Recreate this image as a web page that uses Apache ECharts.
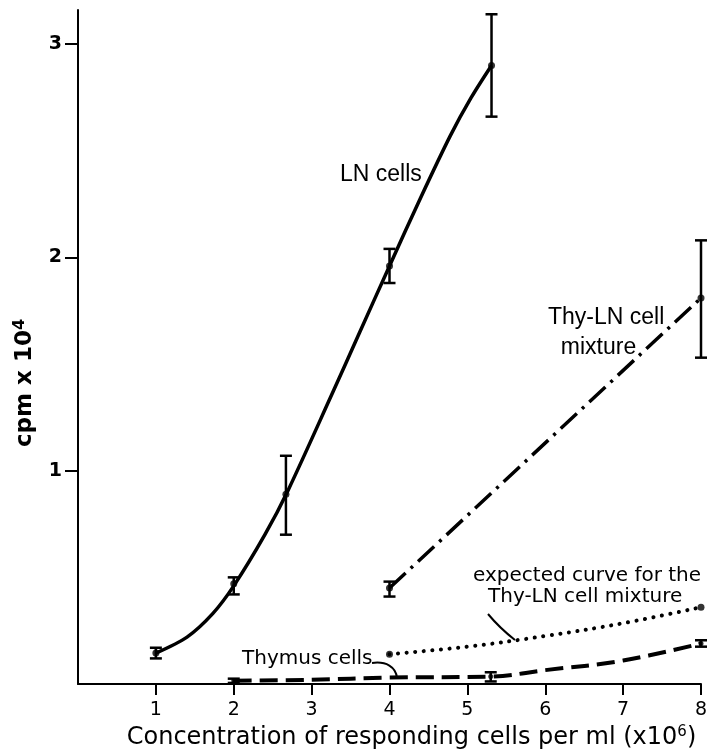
<!DOCTYPE html>
<html><head><meta charset="utf-8">
<script src="https://cdn.jsdelivr.net/npm/echarts@6/dist/echarts.min.js"></script>
<style>html,body{margin:0;padding:0;background:#fff}#c{width:715px;height:749px}</style>
</head><body><div id="c"></div>
<script>
// ---- data ----
const xTicks = [1, 2, 3, 4, 5, 6, 7, 8];
const yTicks = [1, 2, 3];

// LN cells: measured points with error bars
const lnX = [1, 2, 2.67, 4, 5.31];
const lnY = [0.145, 0.47, 0.89, 1.96, 2.90];
const lnLow = [0.12, 0.42, 0.70, 1.88, 2.66];
const lnHigh = [0.17, 0.50, 1.07, 2.04, 3.14];
// LN cells: drawn curve
const lnCurveX = [1, 1.4, 1.73, 2, 2.4, 2.7, 3.25, 3.6, 4, 4.4, 4.78, 5.05, 5.31];
const lnCurveY = [0.145, 0.22, 0.33, 0.46, 0.70, 0.91, 1.35, 1.635, 1.96, 2.28, 2.57, 2.75, 2.90];

// Thy-LN cell mixture
const mixX = [4, 8];
const mixY = [0.45, 1.81];
const mixLow = [0.41, 1.53];
const mixHigh = [0.48, 2.08];

// expected curve for the Thy-LN cell mixture
const expX = [4, 5, 6, 7, 8];
const expY = [0.14, 0.175, 0.225, 0.285, 0.36];

// Thymus cells
const thyX = [2, 5.3, 8];
const thyY = [0.015, 0.035, 0.19];
const thyLow = [0.005, 0.012, 0.175];
const thyHigh = [0.025, 0.055, 0.205];
const thyCurveX = [2, 3, 4, 5.3, 6, 7, 8];
const thyCurveY = [0.015, 0.02, 0.03, 0.035, 0.065, 0.11, 0.19];

const xTitle = 'Concentration of responding cells per ml (x10{sup|6})';
const yTitle = 'cpm x 10{sup|4}';

// ---- helpers ----
const pairs = (xs, ys) => xs.map((x, i) => [x, ys[i]]);
const INK = '#000';
const SANS = '"DejaVu Sans", sans-serif';

function errBars(xs, lows, highs) {
  return {
    type: 'custom', silent: true, z: 4,
    data: xs.map((x, i) => [x, lows[i], highs[i]]),
    encode: { x: 0, y: [1, 2] },
    renderItem: (params, api) => {
      const x = api.value(0), lo = api.value(1), hi = api.value(2);
      const a = api.coord([x, lo]), b = api.coord([x, hi]);
      const w = 6, st = { stroke: INK, lineWidth: 2.5 };
      return { type: 'group', children: [
        { type: 'line', shape: { x1: a[0], y1: a[1], x2: b[0], y2: b[1] }, style: st },
        { type: 'line', shape: { x1: a[0] - w, y1: a[1], x2: a[0] + w, y2: a[1] }, style: st },
        { type: 'line', shape: { x1: b[0] - w, y1: b[1], x2: b[0] + w, y2: b[1] }, style: st }
      ]};
    }
  };
}
function dots(data, size) {
  return { type: 'scatter', data, symbol: 'circle', symbolSize: size, itemStyle: { color: INK }, z: 6, silent: true };
}

const chart = echarts.init(document.getElementById('c'), null, { renderer: 'canvas' });
chart.setOption({
  animation: false,
  backgroundColor: '#fff',
  grid: { left: 78, right: 14, top: 10, bottom: 65, containLabel: false, outerBoundsMode: 'none' },
  xAxis: {
    type: 'value', min: 0, max: 8, interval: 1,
    axisLine: { lineStyle: { color: INK, width: 2 } },
    axisTick: { customValues: xTicks, length: 11, lineStyle: { color: INK, width: 2 } },
    axisLabel: { customValues: xTicks, color: INK, fontSize: 19, fontFamily: SANS, margin: 17 },
    splitLine: { show: false },
    name: xTitle, nameLocation: 'middle', nameGap: 37,
    nameTextStyle: { color: INK, fontSize: 24, fontFamily: SANS, padding: [0, 0, 0, 44],
      rich: { sup: { fontSize: 15, fontFamily: SANS, color: INK, verticalAlign: 'top', padding: [0, 0, 10, 0] } } }
  },
  yAxis: {
    type: 'value', min: 0, max: 3.16, interval: 1,
    axisLine: { lineStyle: { color: INK, width: 2 } },
    axisTick: { customValues: yTicks, length: 13, lineStyle: { color: INK, width: 2 } },
    axisLabel: { customValues: yTicks, color: INK, fontSize: 19, fontFamily: SANS, margin: 16, fontWeight: 'bold' },
    splitLine: { show: false },
    name: yTitle, nameLocation: 'middle', nameGap: 40,
    nameTextStyle: { color: INK, fontSize: 23, fontFamily: SANS, fontWeight: 'bold', padding: [0, 72, 0, 0],
      rich: { sup: { fontSize: 16, fontFamily: SANS, fontWeight: 'bold', color: INK, verticalAlign: 'top', padding: [0, 0, 10, 0] } } }
  },
  series: [
    { type: 'line', name: 'LN cells', data: pairs(lnCurveX, lnCurveY), smooth: 0.3, showSymbol: false,
      lineStyle: { color: INK, width: 3.5 }, z: 3, silent: true },
    errBars(lnX, lnLow, lnHigh),
    dots(pairs(lnX, lnY), 7),

    { type: 'line', name: 'Thy-LN cell mixture', data: pairs(mixX, mixY), showSymbol: false,
      lineStyle: { color: INK, width: 3.5, type: [22, 7, 3, 7], cap: 'butt' }, z: 3, silent: true },
    errBars(mixX, mixLow, mixHigh),
    dots(pairs(mixX, mixY), 7),

    { type: 'line', name: 'expected', data: pairs(expX, expY), smooth: 0.4, showSymbol: false,
      lineStyle: { color: INK, width: 4, type: [0.1, 8.5], cap: 'round' }, z: 3, silent: true },
    dots([[expX[0], expY[0]], [expX[expX.length - 1], expY[expY.length - 1]]], 7),

    { type: 'line', name: 'Thymus cells', data: pairs(thyCurveX, thyCurveY), smooth: 0.4, showSymbol: false,
      lineStyle: { color: INK, width: 4, type: [18, 8] }, z: 3, silent: true },
    errBars(thyX, thyLow, thyHigh),
    dots(pairs(thyX, thyY), 5)
  ],
  graphic: [
    { type: 'text', left: 340, top: 163, style: { text: 'LN cells', font: '23px "Liberation Sans", Arial, sans-serif', fill: INK } },
    { type: 'text', left: 548, top: 303, style: { text: 'Thy-LN cell\n  mixture', font: '23px "Liberation Sans", Arial, sans-serif', fill: INK, lineHeight: 30 } },
    { type: 'text', left: 473, top: 566, style: { text: 'expected curve for the', font: '20px "DejaVu Sans", sans-serif', fill: INK } },
    { type: 'text', left: 488, top: 587, style: { text: 'Thy-LN cell mixture', font: '20px "DejaVu Sans", sans-serif', fill: INK } },
    { type: 'text', left: 242, top: 649, style: { text: 'Thymus cells', font: '20px "DejaVu Sans", sans-serif', fill: INK } },
    { type: 'bezierCurve', shape: { x1: 488, y1: 614, cpx1: 498, cpy1: 626, cpx2: 506, cpy2: 633, x2: 515, y2: 640 },
      style: { stroke: INK, lineWidth: 2, fill: null } },
    { type: 'bezierCurve', shape: { x1: 372, y1: 663, cpx1: 386, cpy1: 661, cpx2: 396, cpy2: 667, x2: 397, y2: 678 },
      style: { stroke: INK, lineWidth: 2, fill: null } }
  ]
});
</script>
</body></html>
